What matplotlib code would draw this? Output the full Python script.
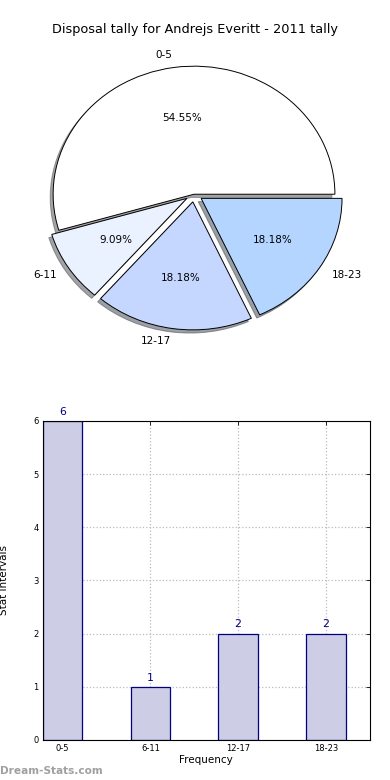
import numpy as np
import matplotlib
matplotlib.use("Agg")
import matplotlib.pyplot as plt

# data
intervals = ["0-5", "6-11", "12-17", "18-23"]
counts = [6, 1, 2, 2]
pie_colors = ["#ffffff", "#eaf1ff", "#c5d7ff", "#b3d5ff"]
explode = [0, 0.06, 0.06, 0.06]

fig = plt.figure(figsize=(3.9, 7.8), dpi=100)
fig.text(0.5, 1 - 30 / 780, "Disposal tally for Andrejs Everitt - 2011 tally",
         ha="center", va="center", fontsize=9.3)

# pie chart (elliptical like the original)
ax1 = fig.add_axes([0.064, 0.554, 0.867, 0.394])
wedges, texts, autotexts = ax1.pie(counts, labels=intervals, colors=pie_colors,
                                   explode=explode,
                                   shadow={"ox": -0.015, "oy": -0.018},
                                   startangle=0,
                                   autopct="%1.2f%%", labeldistance=1.1,
                                   pctdistance=0.6,
                                   wedgeprops={"edgecolor": "black", "linewidth": 0.7},
                                   textprops={"fontsize": 7.5})
ax1.set_aspect("auto")
ax1.set_xlim(-1.2, 1.2)
ax1.set_ylim(-1.2, 1.2)
ax1.axis("off")

# bar chart
ax2 = fig.add_axes([0.110, 0.0513, 0.838, 0.409])
x = np.arange(len(intervals))
bars = ax2.bar(x, counts, width=0.45, color="#cdcde6", edgecolor="navy",
               linewidth=0.9, zorder=2)
for xi, c in zip(x, counts):
    ax2.text(xi, c + 0.08, str(c), ha="center", va="bottom", color="navy",
             fontsize=7.8)
ax2.set_xlim(-0.225, 3.5)
ax2.set_ylim(0, 6)
ax2.set_xticks(x)
ax2.set_xticklabels(intervals)
ax2.set_yticks(range(7))
ax2.tick_params(direction="in", labelsize=6, top=True, right=True,
                length=3, width=0.6, pad=3)
ax2.grid(True, linestyle=":", color="#bbbbbb", linewidth=0.9, zorder=3)
for s in ax2.spines.values():
    s.set_linewidth(0.8)
ax2.set_xlabel("Frequency", fontsize=7.5, labelpad=1)
ax2.set_ylabel("Stat Intervals", fontsize=7.5, labelpad=2)
ax2.yaxis.set_label_coords(-0.105, 0.5)

fig.text(0.0, 1 - 771 / 780, "Dream-Stats.com", ha="left", va="center",
         fontsize=7.6, color="#a0a0a0", fontweight="bold")

fig.savefig("out.png", dpi=100)
